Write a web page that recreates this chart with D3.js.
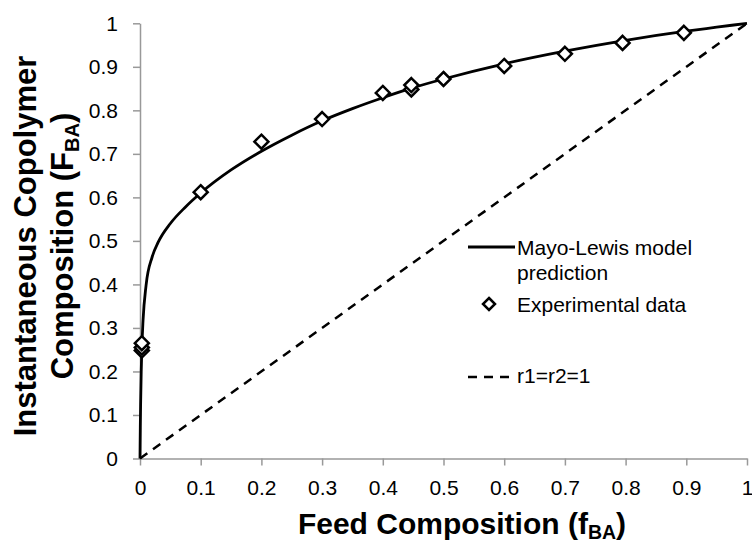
<!DOCTYPE html>
<html>
<head>
<meta charset="utf-8">
<script src="https://cdn.jsdelivr.net/npm/d3@7"></script>
<style>
  html, body { margin: 0; padding: 0; background: #fff; }
  svg { display: block; font-family: "Liberation Sans", Arial, sans-serif; }
</style>
</head>
<body>
<svg id="chart" width="752" height="544"></svg>
<script>
// Experimental copolymer composition vs. feed composition
const feedBA = [0.003, 0.003, 0.003, 0.1, 0.2, 0.3, 0.4, 0.447, 0.447, 0.5, 0.6, 0.7, 0.795, 0.896];
const copolymerBA = [0.248, 0.255, 0.265, 0.612, 0.728, 0.780, 0.840, 0.848, 0.858, 0.872, 0.902, 0.930, 0.955, 0.978];

// Mayo-Lewis model prediction curve
const modelFeed = [0, 0.0002, 0.0005, 0.001, 0.002, 0.003, 0.005, 0.01, 0.02, 0.03, 0.05, 0.075,
  0.1, 0.15, 0.2, 0.25, 0.3, 0.35, 0.4, 0.45, 0.5, 0.6, 0.7, 0.8, 0.9, 0.95, 1];
const modelCopolymer = [0, 0.031, 0.071, 0.124, 0.200, 0.252, 0.317, 0.398, 0.463, 0.497, 0.540, 0.578,
  0.610, 0.663, 0.706, 0.743, 0.776, 0.804, 0.829, 0.852, 0.872, 0.907, 0.936, 0.961, 0.982, 0.991, 1];

// Ideal copolymerisation (r1 = r2 = 1)
const idealFeed = [0, 1];
const idealCopolymer = [0, 1];

const xTicks = [0, 0.1, 0.2, 0.3, 0.4, 0.5, 0.6, 0.7, 0.8, 0.9, 1];
const yTicks = [0, 0.1, 0.2, 0.3, 0.4, 0.5, 0.6, 0.7, 0.8, 0.9, 1];

const svg = d3.select("#chart");
const x = d3.scaleLinear().domain([0, 1]).range([140, 747]);
const y = d3.scaleLinear().domain([0, 1]).range([458.5, 23.3]);

const axisColor = "#999";
const labelFont = 21;

// X axis
const gx = svg.append("g").attr("transform", `translate(0,${y(0)})`)
  .call(d3.axisBottom(x).tickValues(xTicks).tickFormat(d => String(d))
    .tickSizeInner(7).tickSizeOuter(0).tickPadding(14.5));
gx.select(".domain").attr("stroke", axisColor).attr("stroke-width", 1.5);
gx.selectAll(".tick line").attr("stroke", axisColor).attr("stroke-width", 1.5);
gx.selectAll(".tick text").attr("fill", "#000").attr("font-size", labelFont)
  .attr("font-family", "Liberation Sans, Arial, sans-serif");

// Y axis
const gy = svg.append("g").attr("transform", `translate(${x(0)},0)`)
  .call(d3.axisLeft(y).tickValues(yTicks).tickFormat(d => String(d))
    .tickSizeInner(7).tickSizeOuter(0).tickPadding(15));
gy.select(".domain").attr("stroke", axisColor).attr("stroke-width", 1.5);
gy.selectAll(".tick line").attr("stroke", axisColor).attr("stroke-width", 1.5);
gy.selectAll(".tick text").attr("fill", "#000").attr("font-size", labelFont)
  .attr("font-family", "Liberation Sans, Arial, sans-serif");

// Ideal diagonal
svg.append("path")
  .attr("d", d3.line().x((d, i) => x(idealFeed[i])).y((d, i) => y(idealCopolymer[i]))(idealFeed))
  .attr("fill", "none").attr("stroke", "#000").attr("stroke-width", 2.5)
  .attr("stroke-dasharray", "9,7");

// Model curve
svg.append("path")
  .attr("d", d3.line().curve(d3.curveMonotoneX)
    .x((d, i) => x(modelFeed[i])).y((d, i) => y(modelCopolymer[i]))(modelFeed))
  .attr("fill", "none").attr("stroke", "#000").attr("stroke-width", 2.8);

// Experimental markers
const diamond = r => `M0,${-r}L${r},0L0,${r}L${-r},0Z`;
svg.append("g").selectAll("path").data(feedBA).join("path")
  .attr("transform", (d, i) => `translate(${x(d)},${y(copolymerBA[i])})`)
  .attr("d", diamond(7))
  .attr("fill", "#fff").attr("stroke", "#000").attr("stroke-width", 2.5);

// Legend
const leg = svg.append("g");
leg.append("line").attr("x1", 468).attr("x2", 515).attr("y1", 247).attr("y2", 247)
  .attr("stroke", "#000").attr("stroke-width", 2.8);
leg.append("text").attr("x", 517).attr("y", 255).attr("font-size", labelFont).text("Mayo-Lewis model");
leg.append("text").attr("x", 517).attr("y", 280).attr("font-size", labelFont).text("prediction");
leg.append("path").attr("transform", "translate(489,304)").attr("d", diamond(6))
  .attr("fill", "#fff").attr("stroke", "#000").attr("stroke-width", 2.5);
leg.append("text").attr("x", 517).attr("y", 312).attr("font-size", labelFont).text("Experimental data");
leg.append("line").attr("x1", 468).attr("x2", 515).attr("y1", 377).attr("y2", 377)
  .attr("stroke", "#000").attr("stroke-width", 2.5).attr("stroke-dasharray", "9,7");
leg.append("text").attr("x", 517).attr("y", 383).attr("font-size", labelFont).text("r1=r2=1");

// Axis titles
const titleFont = 30;
const xt = svg.append("text").attr("x", 462).attr("y", 534).attr("text-anchor", "middle")
  .attr("font-size", titleFont).attr("font-weight", "bold");
xt.append("tspan").text("Feed Composition (f");
xt.append("tspan").attr("font-size", titleFont * 0.65).attr("dy", 5).text("BA");
xt.append("tspan").attr("dy", -5).text(")");

const yt = svg.append("text").attr("transform", "translate(36,246) rotate(-90)")
  .attr("text-anchor", "middle").attr("font-size", titleFont + 1).attr("font-weight", "bold");
yt.append("tspan").attr("x", 0).attr("y", 0).text("Instantaneous Copolymer");
const yt2 = svg.append("text").attr("transform", "translate(73,246) rotate(-90)")
  .attr("text-anchor", "middle").attr("font-size", titleFont + 1).attr("font-weight", "bold");
yt2.append("tspan").text("Composition (F");
yt2.append("tspan").attr("font-size", (titleFont + 1) * 0.65).attr("dy", 6).text("BA");
yt2.append("tspan").attr("dy", -6).text(")");
</script>
</body>
</html>
